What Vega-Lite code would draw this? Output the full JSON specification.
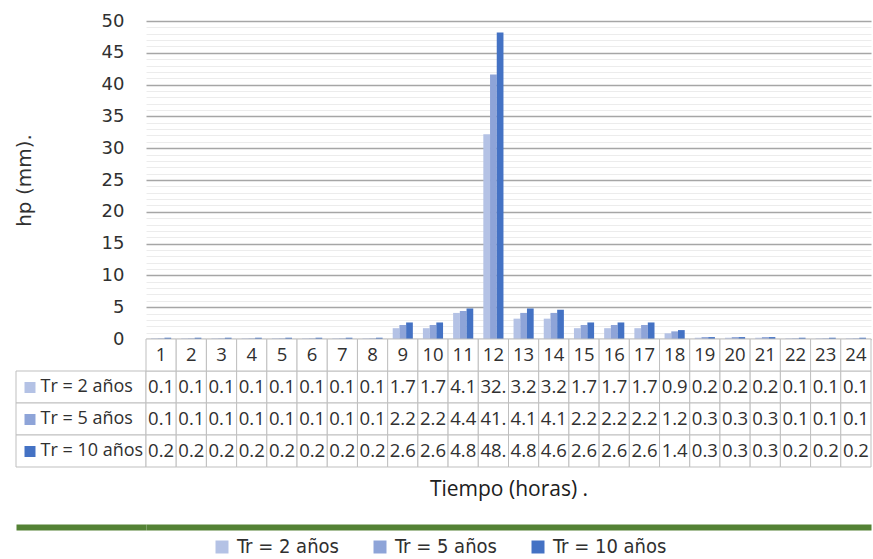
{
  "$schema": "https://vega.github.io/schema/vega-lite/v6.json",
  "padding": {"left": 14, "top": 12, "right": 2, "bottom": 0},
  "config": {"view": {"stroke": null}, "font": "Open Sans"},
  "datasets": {
    "hp": [
      {"hora": 1, "serie": "Tr = 2 años", "hp": 0.1}, {"hora": 1, "serie": "Tr = 5 años", "hp": 0.1}, {"hora": 1, "serie": "Tr = 10 años", "hp": 0.2},
      {"hora": 2, "serie": "Tr = 2 años", "hp": 0.1}, {"hora": 2, "serie": "Tr = 5 años", "hp": 0.1}, {"hora": 2, "serie": "Tr = 10 años", "hp": 0.2},
      {"hora": 3, "serie": "Tr = 2 años", "hp": 0.1}, {"hora": 3, "serie": "Tr = 5 años", "hp": 0.1}, {"hora": 3, "serie": "Tr = 10 años", "hp": 0.2},
      {"hora": 4, "serie": "Tr = 2 años", "hp": 0.1}, {"hora": 4, "serie": "Tr = 5 años", "hp": 0.1}, {"hora": 4, "serie": "Tr = 10 años", "hp": 0.2},
      {"hora": 5, "serie": "Tr = 2 años", "hp": 0.1}, {"hora": 5, "serie": "Tr = 5 años", "hp": 0.1}, {"hora": 5, "serie": "Tr = 10 años", "hp": 0.2},
      {"hora": 6, "serie": "Tr = 2 años", "hp": 0.1}, {"hora": 6, "serie": "Tr = 5 años", "hp": 0.1}, {"hora": 6, "serie": "Tr = 10 años", "hp": 0.2},
      {"hora": 7, "serie": "Tr = 2 años", "hp": 0.1}, {"hora": 7, "serie": "Tr = 5 años", "hp": 0.1}, {"hora": 7, "serie": "Tr = 10 años", "hp": 0.2},
      {"hora": 8, "serie": "Tr = 2 años", "hp": 0.1}, {"hora": 8, "serie": "Tr = 5 años", "hp": 0.1}, {"hora": 8, "serie": "Tr = 10 años", "hp": 0.2},
      {"hora": 9, "serie": "Tr = 2 años", "hp": 1.7}, {"hora": 9, "serie": "Tr = 5 años", "hp": 2.2}, {"hora": 9, "serie": "Tr = 10 años", "hp": 2.6},
      {"hora": 10, "serie": "Tr = 2 años", "hp": 1.7}, {"hora": 10, "serie": "Tr = 5 años", "hp": 2.2}, {"hora": 10, "serie": "Tr = 10 años", "hp": 2.6},
      {"hora": 11, "serie": "Tr = 2 años", "hp": 4.1}, {"hora": 11, "serie": "Tr = 5 años", "hp": 4.4}, {"hora": 11, "serie": "Tr = 10 años", "hp": 4.8},
      {"hora": 12, "serie": "Tr = 2 años", "hp": 32.2}, {"hora": 12, "serie": "Tr = 5 años", "hp": 41.6}, {"hora": 12, "serie": "Tr = 10 años", "hp": 48.2},
      {"hora": 13, "serie": "Tr = 2 años", "hp": 3.2}, {"hora": 13, "serie": "Tr = 5 años", "hp": 4.1}, {"hora": 13, "serie": "Tr = 10 años", "hp": 4.8},
      {"hora": 14, "serie": "Tr = 2 años", "hp": 3.2}, {"hora": 14, "serie": "Tr = 5 años", "hp": 4.1}, {"hora": 14, "serie": "Tr = 10 años", "hp": 4.6},
      {"hora": 15, "serie": "Tr = 2 años", "hp": 1.7}, {"hora": 15, "serie": "Tr = 5 años", "hp": 2.2}, {"hora": 15, "serie": "Tr = 10 años", "hp": 2.6},
      {"hora": 16, "serie": "Tr = 2 años", "hp": 1.7}, {"hora": 16, "serie": "Tr = 5 años", "hp": 2.2}, {"hora": 16, "serie": "Tr = 10 años", "hp": 2.6},
      {"hora": 17, "serie": "Tr = 2 años", "hp": 1.7}, {"hora": 17, "serie": "Tr = 5 años", "hp": 2.2}, {"hora": 17, "serie": "Tr = 10 años", "hp": 2.6},
      {"hora": 18, "serie": "Tr = 2 años", "hp": 0.9}, {"hora": 18, "serie": "Tr = 5 años", "hp": 1.2}, {"hora": 18, "serie": "Tr = 10 años", "hp": 1.4},
      {"hora": 19, "serie": "Tr = 2 años", "hp": 0.2}, {"hora": 19, "serie": "Tr = 5 años", "hp": 0.3}, {"hora": 19, "serie": "Tr = 10 años", "hp": 0.3},
      {"hora": 20, "serie": "Tr = 2 años", "hp": 0.2}, {"hora": 20, "serie": "Tr = 5 años", "hp": 0.3}, {"hora": 20, "serie": "Tr = 10 años", "hp": 0.3},
      {"hora": 21, "serie": "Tr = 2 años", "hp": 0.2}, {"hora": 21, "serie": "Tr = 5 años", "hp": 0.3}, {"hora": 21, "serie": "Tr = 10 años", "hp": 0.3},
      {"hora": 22, "serie": "Tr = 2 años", "hp": 0.1}, {"hora": 22, "serie": "Tr = 5 años", "hp": 0.1}, {"hora": 22, "serie": "Tr = 10 años", "hp": 0.2},
      {"hora": 23, "serie": "Tr = 2 años", "hp": 0.1}, {"hora": 23, "serie": "Tr = 5 años", "hp": 0.1}, {"hora": 23, "serie": "Tr = 10 años", "hp": 0.2},
      {"hora": 24, "serie": "Tr = 2 años", "hp": 0.1}, {"hora": 24, "serie": "Tr = 5 años", "hp": 0.1}, {"hora": 24, "serie": "Tr = 10 años", "hp": 0.2}
    ]
  },
  "columns": 2,
  "spacing": 0,
  "bounds": "flush",
  "resolve": {"scale": {"x": "independent", "y": "independent", "xOffset": "independent"}},
  "concat": [
    {
      "width": 130, "height": 318,
      "data": {"values": [{"a": 1}]},
      "mark": {"type": "point", "opacity": 0}
    },
    {
      "width": 725, "height": 318,
      "data": {"name": "hp"},
      "mark": {"type": "bar"},
      "encoding": {
        "x": {"field": "hora", "type": "ordinal", "scale": {"paddingInner": 0.3333, "paddingOuter": 0.1667}, "axis": null},
        "xOffset": {"field": "serie", "type": "nominal", "scale": {"domain": ["Tr = 2 años", "Tr = 5 años", "Tr = 10 años"], "paddingInner": 0, "paddingOuter": 0}},
        "y": {
          "field": "hp", "type": "quantitative",
          "scale": {"domain": [0, 50], "nice": false},
          "axis": {
            "values": [0,1,2,3,4,5,6,7,8,9,10,11,12,13,14,15,16,17,18,19,20,21,22,23,24,25,26,27,28,29,30,31,32,33,34,35,36,37,38,39,40,41,42,43,44,45,46,47,48,49,50],
            "labelExpr": "datum.value % 5 === 0 ? datum.label : ''",
            "labelOverlap": false,
            "grid": true,
            "gridColor": {"condition": {"test": "datum.value % 5 === 0", "value": "#a6a6a6"}, "value": "#ececec"},
            "gridWidth": {"condition": {"test": "datum.value % 5 === 0", "value": 1.5}, "value": 1},
            "ticks": false, "domain": false,
            "labelFont": "DejaVu Sans", "labelFontSize": 18, "labelColor": "#303030", "labelPadding": 22,
            "title": "hp (mm).", "titleFont": "DejaVu Sans", "titleFontSize": 20, "titleFontWeight": "normal",
            "titleColor": "#303030", "titlePadding": 67
          }
        },
        "color": {
          "field": "serie", "type": "nominal",
          "scale": {"domain": ["Tr = 2 años", "Tr = 5 años", "Tr = 10 años"], "range": ["#B4C2E5", "#8EA4D8", "#4472C4"]},
          "legend": {
            "orient": "none", "legendX": 196, "legendY": 516, "direction": "horizontal", "title": null,
            "symbolType": "square", "symbolSize": 169, "symbolStrokeWidth": 0, "symbolOpacity": 1,
            "labelFont": "DejaVu Sans Condensed", "labelFontSize": 20, "labelColor": "#303030",
            "columnPadding": 31, "labelOffset": 5, "padding": 0
          }
        }
      }
    },
    {
      "width": 130, "height": 128,
      "data": {"name": "hp"},
      "transform": [{"filter": "datum.hora === 1"}],
      "mark": {"type": "rect", "fill": "white", "stroke": "#bfbfbf", "strokeWidth": 1},
      "encoding": {
        "x": {"datum": 0, "type": "quantitative", "scale": {"domain": [0, 1], "nice": false, "zero": false},
          "axis": {"orient": "bottom", "offset": 60, "labels": false, "ticks": false, "grid": false, "domain": true, "domainColor": "#548235", "domainWidth": 6, "title": null}},
        "x2": {"datum": 1},
        "y": {
          "field": "serie", "type": "nominal",
          "scale": {"domain": ["h", "Tr = 2 años", "Tr = 5 años", "Tr = 10 años"], "paddingInner": 0, "paddingOuter": 0},
          "axis": {
            "values": ["Tr = 2 años", "Tr = 5 años", "Tr = 10 años"],
            "orient": "left", "offset": -19, "domain": false, "grid": false,
            "ticks": true, "tickSize": 11, "tickWidth": 11, "tickCap": "butt", "bandPosition": 0.5,
            "tickColor": {"condition": [{"test": "datum.value === 'Tr = 2 años'", "value": "#B4C2E5"}, {"test": "datum.value === 'Tr = 5 años'", "value": "#8EA4D8"}], "value": "#4472C4"},
            "labelAlign": "left", "labelPadding": -16, "labelFont": "Open Sans", "labelFontSize": 18, "labelColor": "#303030",
            "title": null
          }
        }
      }
    },
    {
      "width": 725, "height": 128,
      "data": {"name": "hp"},
      "encoding": {
        "x": {"field": "hora", "type": "ordinal", "scale": {"paddingInner": 0, "paddingOuter": 0},
          "axis": {"orient": "bottom", "offset": 60, "labels": false, "ticks": false, "grid": false, "domain": true, "domainColor": "#548235", "domainWidth": 6,
            "title": "Tiempo (horas) .", "titleFont": "Open Sans", "titleFontSize": 21, "titleFontWeight": "normal", "titleColor": "#202020",
            "titleBaseline": "alphabetic", "titleY": -32}}
      },
      "layer": [
        {
          "mark": {"type": "rect", "fill": "white", "stroke": "#bfbfbf", "strokeWidth": 1},
          "encoding": {
            "y": {"field": "serie", "type": "nominal", "scale": {"domain": ["h", "Tr = 2 años", "Tr = 5 años", "Tr = 10 años"], "paddingInner": 0, "paddingOuter": 0}, "axis": null}
          }
        },
        {
          "transform": [{"filter": "datum.serie === 'Tr = 2 años'"}],
          "mark": {"type": "rect", "fill": "white", "stroke": "#bfbfbf", "strokeWidth": 1},
          "encoding": {
            "y": {"datum": "h", "type": "nominal", "scale": {"domain": ["h", "Tr = 2 años", "Tr = 5 años", "Tr = 10 años"], "paddingInner": 0, "paddingOuter": 0}, "axis": null}
          }
        },
        {
          "mark": {"type": "text", "font": "Open Sans", "fontSize": 18.5, "color": "#303030", "limit": 29, "ellipsis": "."},
          "encoding": {
            "y": {"field": "serie", "type": "nominal", "scale": {"domain": ["h", "Tr = 2 años", "Tr = 5 años", "Tr = 10 años"], "paddingInner": 0, "paddingOuter": 0}, "axis": null},
            "text": {"field": "hp", "type": "quantitative", "format": ".1f"}
          }
        },
        {
          "transform": [{"filter": "datum.serie === 'Tr = 2 años'"}],
          "mark": {"type": "text", "font": "Open Sans", "fontSize": 18.5, "color": "#303030"},
          "encoding": {
            "y": {"datum": "h", "type": "nominal", "scale": {"domain": ["h", "Tr = 2 años", "Tr = 5 años", "Tr = 10 años"], "paddingInner": 0, "paddingOuter": 0}, "axis": null},
            "text": {"field": "hora", "type": "ordinal"}
          }
        }
      ]
    }
  ]
}
